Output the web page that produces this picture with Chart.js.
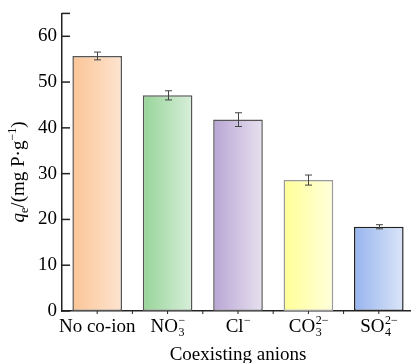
<!DOCTYPE html>
<html>
<head>
<meta charset="utf-8">
<script src="https://cdn.jsdelivr.net/npm/chart.js@4"></script>
<style>
  html, body { margin: 0; padding: 0; background: #fff; overflow: hidden; }
  #wrap { width: 414px; height: 363px; overflow: hidden; }
  #anionChart { margin-top: -3px; display: block; }
</style>
</head>
<body>
<div id="wrap"><canvas id="anionChart" width="414" height="366"></canvas></div>
<script>
// data
const labelBase = ['No co-ion', 'NO', 'Cl', 'CO', 'SO'];
const labelSub = ['', '3', '', '3', '4'];
const labelSup = ['', '\u2212', '\u2212', '2\u2212', '2\u2212'];
const qe = [55.7, 47.1, 41.8, 28.6, 18.4];
const qeErr = [0.85, 1.0, 1.5, 1.1, 0.45];
const yMax = 65;
const yStep = 10;

const gradStops = [
  ['#fbc596', '#fde4d0'],
  ['#96d498', '#d9efdb'],
  ['#b8a5d4', '#e7e1ef'],
  ['#ffff96', '#ffffdc'],
  ['#96b4ee', '#dbe5f8']
];
const borderCols = ['#555', '#555', '#555', '#9a9a9a', '#222'];

const FONT = '"Liberation Serif", "Times New Roman", serif';

function barFill(c) {
  const chart = c.chart;
  if (!chart.chartArea) return gradStops[c.dataIndex][0];
  const xs = chart.scales.x;
  const cx = xs.getPixelForValue(c.dataIndex);
  const half = 25;
  const g = chart.ctx.createLinearGradient(cx - half, 0, cx + half, 0);
  g.addColorStop(0, gradStops[c.dataIndex][0]);
  g.addColorStop(1, gradStops[c.dataIndex][1]);
  return g;
}

const extras = {
  id: 'extras',
  afterDatasetsDraw(chart) {
    const ctx = chart.ctx, xs = chart.scales.x, ys = chart.scales.y;
    const area = chart.chartArea;
    ctx.save();
    // error bars
    ctx.strokeStyle = '#444';
    ctx.lineWidth = 1;
    qe.forEach((v, i) => {
      const x = Math.round(xs.getPixelForValue(i)) + 0.5;
      const y1 = ys.getPixelForValue(v + qeErr[i]);
      const y2 = ys.getPixelForValue(v - qeErr[i]);
      ctx.beginPath();
      ctx.moveTo(x, y1); ctx.lineTo(x, y2);
      ctx.moveTo(x - 3.5, y1); ctx.lineTo(x + 3.5, y1);
      ctx.moveTo(x - 3.5, y2); ctx.lineTo(x + 3.5, y2);
      ctx.stroke();
    });
    // inward y ticks
    ctx.strokeStyle = '#222';
    ctx.lineWidth = 1.5;
    for (let v = 0; v <= yMax; v += yStep) {
      const y = ys.getPixelForValue(v);
      ctx.beginPath(); ctx.moveTo(area.left, y); ctx.lineTo(area.left + 8, y); ctx.stroke();
    }
    ctx.beginPath(); ctx.moveTo(area.left, area.top); ctx.lineTo(area.left + 8, area.top); ctx.stroke();
    // small x ticks
    ctx.lineWidth = 1;
    for (let i = 0; i < qe.length; i++) {
      const x = xs.getPixelForValue(i);
      const w = xs.width / qe.length;
      [x, x + w / 2].forEach(px => {
        ctx.beginPath(); ctx.moveTo(px, area.bottom); ctx.lineTo(px, area.bottom + 3); ctx.stroke();
      });
    }
    // x category labels with stacked sub/superscripts
    ctx.fillStyle = '#000';
    ctx.textBaseline = 'alphabetic';
    ctx.textAlign = 'left';
    const base = area.bottom + 21;
    labelBase.forEach((t, i) => {
      ctx.font = '19px ' + FONT;
      const bw = ctx.measureText(t).width;
      ctx.font = '12px ' + FONT;
      const sw = Math.max(ctx.measureText(labelSub[i]).width, ctx.measureText(labelSup[i]).width);
      const x0 = xs.getPixelForValue(i) - (bw + sw) / 2;
      ctx.font = '19px ' + FONT;
      ctx.fillText(t, x0, base);
      ctx.font = '12px ' + FONT;
      if (labelSub[i]) ctx.fillText(labelSub[i], x0 + bw + 0.5, base + 4);
      if (labelSup[i]) ctx.fillText(labelSup[i], x0 + bw + 0.5, base - 8);
    });
    // x title
    ctx.font = '19px ' + FONT;
    ctx.textAlign = 'center';
    ctx.fillText('Coexisting anions', (area.left + area.right) / 2, area.bottom + 49);
    // y title, rotated
    ctx.translate(24, 175);
    ctx.rotate(-Math.PI / 2);
    ctx.textAlign = 'left';
    const parts = [
      ['q', 'italic 19px ' + FONT, 0],
      ['e', '12px ' + FONT, 4],
      ['/(mg P\u00b7g', '19px ' + FONT, 0],
      ['\u22121', '12px ' + FONT, -8],
      [')', '19px ' + FONT, 0]
    ];
    let total = 0;
    parts.forEach(p => { ctx.font = p[1]; total += ctx.measureText(p[0]).width; });
    let px = -total / 2;
    parts.forEach(p => {
      ctx.font = p[1];
      ctx.fillText(p[0], px, p[2]);
      px += ctx.measureText(p[0]).width;
    });
    ctx.restore();
  }
};

new Chart(document.getElementById('anionChart'), {
  type: 'bar',
  data: {
    labels: labelBase,
    datasets: [{
      data: qe,
      backgroundColor: barFill,
      borderColor: borderCols,
      borderWidth: 1.5,
      borderSkipped: false,
      barPercentage: 0.705,
      categoryPercentage: 1
    }]
  },
  options: {
    responsive: false,
    animation: false,
    layout: { padding: { top: 10, right: 0, left: 0, bottom: 0 } },
    plugins: { legend: { display: false }, tooltip: { enabled: false } },
    scales: {
      x: {
        grid: { display: false },
        border: { display: true, color: '#222', width: 1.5 },
        ticks: { display: false },
        afterFit: s => { s.height = 52; }
      },
      y: {
        min: 0,
        max: yMax,
        grid: { display: false, drawTicks: false },
        border: { display: true, color: '#222', width: 1.5 },
        ticks: {
          stepSize: yStep,
          includeBounds: false,
          color: '#000',
          padding: 5,
          font: { family: FONT, size: 19 }
        },
        afterFit: s => { s.width = 62; }
      }
    }
  },
  plugins: [extras]
});
</script>
</body>
</html>
